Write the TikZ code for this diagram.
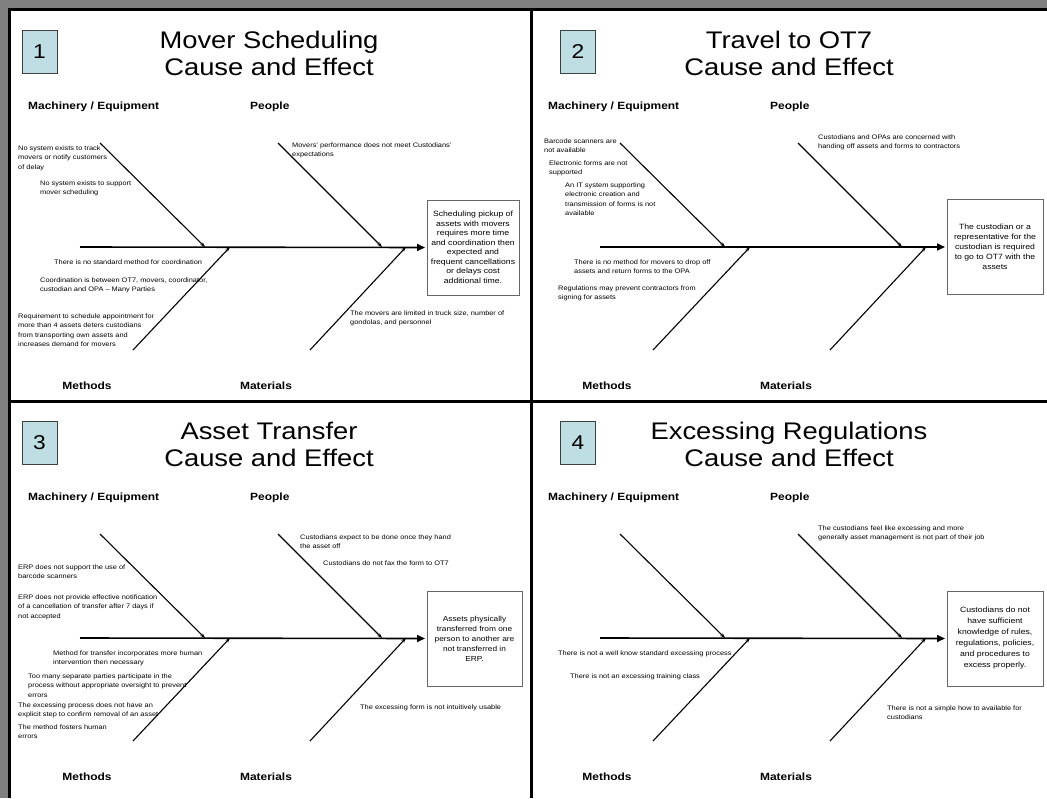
\documentclass[tikz,border=0pt]{standalone}
\usepackage{fontspec}
\setmainfont{Liberation Sans}[FakeStretch=1.14]
\usetikzlibrary{arrows.meta}
\definecolor{numfill}{RGB}{190,222,228}
\definecolor{frameg}{RGB}{128,128,128}
\tikzset{
 cause/.style={font=\fontsize{6.5}{9.5}\selectfont, align=left, anchor=north west, inner sep=0pt},
 effect/.style={draw=black!60, line width=1pt, minimum height=95pt, align=center, inner sep=1pt},
 hdr/.style={font=\fontsize{10.5}{12}\selectfont\bfseries, inner sep=0pt},
 ttl/.style={font=\fontsize{24}{27}\selectfont, align=center, inner sep=0pt},
 num/.style={draw=black!75, fill=numfill, line width=0.8pt, minimum width=35pt, minimum height=43pt, inner sep=0pt, font=\fontsize{20}{24}\selectfont},
 bone/.style={line width=1.1pt, -{Stealth[length=5pt,width=3.5pt]}},
 spine/.style={line width=1.6pt, -{Triangle[length=8pt,width=7pt]}, shorten >=1.5pt},
 frameline/.style={line width=3pt, black},
}
\newcommand\fishbones[1]{%
 \coordinate (#1s) at (80,247);
 \coordinate (#1a) at (100,143); \coordinate (#1b) at (205,247);
 \coordinate (#1c) at (133,350); \coordinate (#1d) at (230,247);
 \coordinate (#1f) at (278,143); \coordinate (#1g) at (382,247);
 \coordinate (#1h) at (310,350); \coordinate (#1i) at (406,247);
 \draw[spine] (#1s) -- (#1e.west);
 \draw[bone] (#1a) -- (#1b);
 \draw[bone] (#1c) -- (#1d);
 \draw[bone] (#1f) -- (#1g);
 \draw[bone] (#1h) -- (#1i);
 \node[hdr, anchor=west] (#1mach) at (28,107) {Machinery / Equipment};
 \node[hdr, anchor=west] (#1peop) at (250,107) {People};
 \node[hdr] (#1meth) at (87,386) {Methods};
 \node[hdr] (#1mat) at (266,386) {Materials};
}
\begin{document}
\begin{tikzpicture}[x=1pt,y=-1pt]
\useasboundingbox (0,0) rectangle (1047,798);
\fill[white] (0,0) rectangle (1047,798);
% frame
\fill[frameg] (0,0) rectangle (1047,8);
\fill[frameg] (0,0) rectangle (8,798);
\coordinate (ftl) at (8,9.5); \coordinate (ftr) at (1047,9.5);
\coordinate (fl1) at (9.5,8); \coordinate (fl2) at (9.5,798);
\coordinate (fm1) at (531,8); \coordinate (fm2) at (531,798);
\coordinate (fh1) at (8,401); \coordinate (fh2) at (1047,401);
\draw[frameline] (ftl) -- (ftr);
\draw[frameline] (fl1) -- (fl2);
\draw[frameline] (fm1) -- (fm2);
\draw[frameline] (fh1) -- (fh2);

% ---------- panel 1 ----------
\node[num] (n1) at (39.5,51.5) {1};
\node[ttl] (t1) at (269,53.5) {Mover Scheduling\\Cause and Effect};
\node[effect, minimum width=92pt, font=\fontsize{7.6}{9.5}\selectfont] (p1e) at (473,247.5) {Scheduling pickup of\\assets with movers\\requires more time\\and coordination then\\expected and\\frequent cancellations\\or delays cost\\additional time.};
\fishbones{p1}
\node[cause] (c1a) at (18,145.5) {No system exists to track\\movers or notify customers\\of delay};
\node[cause] (c1b) at (40,180.5) {No system exists to support\\mover scheduling};
\node[cause] (c1c) at (54,259.5) {There is no standard method for coordination};
\node[cause] (c1d) at (40,277.5) {Coordination is between OT7, movers, coordinator,\\custodian and OPA -- Many Parties};
\node[cause] (c1e) at (18,313.5) {Requirement to schedule appointment for\\more than 4 assets deters custodians\\from transporting own assets and\\increases demand for movers};
\node[cause] (c1f) at (292,142.5) {Movers' performance does not meet Custodians'\\expectations};
\node[cause] (c1g) at (350,310.5) {The movers are limited in truck size, number of\\gondolas, and personnel};

% ---------- panel 2 ----------
\node[num] (n2) at (578,51.5) {2};
\node[ttl] (t2) at (789,53.5) {Travel to OT7\\Cause and Effect};
\node[effect, minimum width=96pt, font=\fontsize{7.6}{10}\selectfont] (p2e) at (995,247) {The custodian or a\\representative for the\\custodian is required\\to go to OT7 with the\\assets};
\begin{scope}[shift={(520,0)}]
\fishbones{p2}
\end{scope}
\node[cause] (c2a) at (544,138.5) {Barcode scanners are\\not available};
\node[cause] (c2b) at (549,160.5) {Electronic forms are not\\supported};
\node[cause] (c2c) at (565,182.5) {An IT system supporting\\electronic creation and\\transmission of forms is not\\available};
\node[cause] (c2d) at (574,259.5) {There is no method for movers to drop off\\assets and return forms to the OPA};
\node[cause] (c2e) at (558,285.5) {Regulations may prevent contractors from\\signing for assets};
\node[cause] (c2f) at (818,134.5) {Custodians and OPAs are concerned with\\handing off assets and forms to contractors};

% ---------- panel 3 ----------
\node[num] (n3) at (39.5,442.5) {3};
\node[ttl] (t3) at (269,444.5) {Asset Transfer\\Cause and Effect};
\node[effect, minimum width=95pt, font=\fontsize{7.3}{10}\selectfont] (p3e) at (474.5,638.5) {Assets physically\\transferred from one\\person to another are\\not transferred in\\ERP.};
\begin{scope}[shift={(0,391)}]
\fishbones{p3}
\end{scope}
\node[cause] (c3a) at (18,564.5) {ERP does not support the use of\\barcode scanners};
\node[cause] (c3b) at (18,594.5) {ERP does not provide effective notification\\of a cancellation of transfer after 7 days if\\not accepted};
\node[cause] (c3c) at (53,650.5) {Method for transfer incorporates more human\\intervention then necessary};
\node[cause] (c3d) at (28,673.5) {Too many separate parties participate in the\\process without appropriate oversight to prevent\\errors};
\node[cause] (c3e) at (18,702.5) {The excessing process does not have an\\explicit step to confirm removal of an asset};
\node[cause] (c3f) at (18,724.5) {The method fosters human\\errors};
\node[cause] (c3g) at (300,534.5) {Custodians expect to be done once they hand\\the asset off};
\node[cause] (c3h) at (323,560.5) {Custodians do not fax the form to OT7};
\node[cause] (c3i) at (360,704.5) {The excessing form is not intuitively usable};

% ---------- panel 4 ----------
\node[num] (n4) at (578,442.5) {4};
\node[ttl] (t4) at (789,444.5) {Excessing Regulations\\Cause and Effect};
\node[effect, minimum width=96pt, font=\fontsize{7.6}{11}\selectfont] (p4e) at (995,638.5) {Custodians do not\\have sufficient\\knowledge of rules,\\regulations, policies,\\and procedures to\\excess properly.};
\begin{scope}[shift={(520,391)}]
\fishbones{p4}
\end{scope}
\node[cause] (c4a) at (558,650.5) {There is not a well know standard excessing process};
\node[cause] (c4b) at (570,673.5) {There is not an excessing training class};
\node[cause] (c4c) at (818,525.5) {The custodians feel like excessing and more\\generally asset management is not part of their job};
\node[cause] (c4d) at (887,705.5) {There is not a simple how to available for\\custodians};
\end{tikzpicture}
\end{document}
